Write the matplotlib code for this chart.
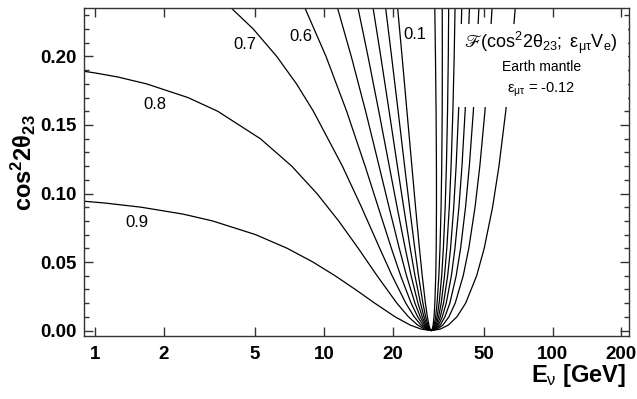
import matplotlib
matplotlib.use('Agg')
import matplotlib.pyplot as plt
from matplotlib.ticker import FixedLocator, NullLocator, MultipleLocator, FixedFormatter
from matplotlib.patches import Rectangle

plt.rcParams['font.family'] = ['Liberation Sans', 'DejaVu Sans']
plt.rcParams['mathtext.fontset'] = 'custom'
plt.rcParams['mathtext.rm'] = 'Liberation Sans'
plt.rcParams['mathtext.it'] = 'Liberation Sans:italic'
plt.rcParams['mathtext.bf'] = 'Liberation Sans:bold'
plt.rcParams['mathtext.fallback'] = 'stix'

# ---------------- data ----------------
levels = ['0.9', '0.8', '0.7', '0.6', '0.5', '0.4', '0.3', '0.2', '0.1']

# common cos^2(2 theta23) grid for right branches and narrow left branches
y_grid = [0.0, 0.001, 0.004, 0.01, 0.02, 0.04, 0.06, 0.09, 0.12, 0.16, 0.20, 0.235]

right_E_09 = [29.5, 32.28, 35.04, 38.20, 41.72, 46.60, 50.28, 54.69, 58.33, 62.44, 65.96, 68.70]
right_E_08 = [29.5, 31.35, 33.17, 35.25, 37.55, 40.70, 43.05, 45.84, 48.11, 50.64, 52.77, 54.40]
right_E_07 = [29.5, 30.91, 32.29, 33.86, 35.58, 37.92, 39.64, 41.66, 43.28, 45.06, 46.54, 47.65]
right_E_06 = [29.5, 30.63, 31.73, 32.97, 34.31, 36.13, 37.45, 38.98, 40.19, 41.49, 42.54, 43.32]
right_E_05 = [29.5, 30.42, 31.31, 32.30, 33.38, 34.80, 35.83, 36.99, 37.89, 38.84, 39.58, 40.10]
right_E_04 = [29.5, 30.25, 30.96, 31.76, 32.61, 33.72, 34.50, 35.37, 36.02, 36.67, 37.16, 37.48]
right_E_03 = [29.5, 30.10, 30.66, 31.28, 31.94, 32.77, 33.33, 33.94, 34.36, 34.76, 35.02, 35.16]
right_E_02 = [29.5, 29.95, 30.37, 30.83, 31.29, 31.85, 32.21, 32.57, 32.78, 32.94, 32.98, 32.95]
right_E_01 = [29.5, 29.80, 30.06, 30.34, 30.59, 30.87, 31.01, 31.09, 31.08, 30.97, 30.78, 30.57]

left_E_06 = [29.5, 28.34, 27.16, 25.74, 24.09, 21.68, 19.75, 17.30, 15.16, 12.59, 10.23, 8.29]
left_E_05 = [29.5, 28.55, 27.58, 26.40, 25.03, 23.00, 21.38, 19.29, 17.45, 15.24, 13.19, 11.50]
left_E_04 = [29.5, 28.72, 27.92, 26.94, 25.80, 24.09, 22.70, 20.92, 19.33, 17.40, 15.61, 14.13]
left_E_03 = [29.5, 28.88, 28.22, 27.42, 26.47, 25.04, 23.87, 22.35, 20.98, 19.31, 17.75, 16.44]
left_E_02 = [29.5, 29.02, 28.51, 27.88, 27.12, 25.95, 24.99, 23.72, 22.56, 21.14, 19.79, 18.65]
left_E_01 = [29.5, 29.17, 28.82, 28.37, 27.81, 26.94, 26.19, 25.19, 24.27, 23.10, 21.99, 21.04]

left_y_07 = [0.0, 0.001, 0.004, 0.01, 0.02, 0.04, 0.06, 0.09, 0.12, 0.16, 0.18, 0.20, 0.22, 0.235]
left_E_07 = [29.5, 28.06, 26.59, 24.85, 22.83, 19.89, 17.56, 14.62, 12.06, 9.01, 7.60, 6.23, 4.92, 3.96]

left_y_08 = [0.0, 0.001, 0.004, 0.01, 0.02, 0.04, 0.06, 0.08, 0.10, 0.12, 0.14, 0.16,
             0.17, 0.18, 0.185, 0.188, 0.19]
left_E_08 = [29.5, 27.62, 25.71, 23.45, 20.86, 17.10, 14.15, 11.61, 9.33, 7.24, 5.28, 3.44,
             2.55, 1.68, 1.26, 1.00, 0.83]

left_y_09 = [0.0, 0.001, 0.004, 0.01, 0.02, 0.03, 0.04, 0.05, 0.06, 0.07, 0.08, 0.085,
             0.09, 0.093, 0.094, 0.0945]
left_E_09 = [29.5, 26.69, 23.84, 20.50, 16.69, 13.73, 11.20, 8.96, 6.92, 5.03, 3.26, 2.42,
             1.59, 1.11, 0.95, 0.87]

label_text = ['0.9', '0.8', '0.7', '0.6', '0.1']
label_E = [1.52, 1.83, 4.52, 7.93, 25.1]
label_y = [0.079, 0.1646, 0.2084, 0.2146, 0.2164]

x_ticks = [1, 2, 5, 10, 20, 50, 100, 200]
x_ticklabels = ['1', '2', '5', '10', '20', '50', '100', '200']
y_ticks = [0.00, 0.05, 0.10, 0.15, 0.20]
y_ticklabels = ['0.00', '0.05', '0.10', '0.15', '0.20']

# ---------------- figure ----------------
fig = plt.figure(figsize=(6.37, 3.99), dpi=100)
ax = fig.add_axes([0.1319, 0.1579, 0.8563, 0.8221])

left_branches = [
    (left_E_09, left_y_09), (left_E_08, left_y_08), (left_E_07, left_y_07),
    (left_E_06, y_grid), (left_E_05, y_grid), (left_E_04, y_grid),
    (left_E_03, y_grid), (left_E_02, y_grid), (left_E_01, y_grid),
]
right_branches = [right_E_09, right_E_08, right_E_07, right_E_06, right_E_05,
                  right_E_04, right_E_03, right_E_02, right_E_01]

for (lE, ly), rE in zip(left_branches, right_branches):
    E = list(reversed(lE)) + rE[1:]
    y = list(reversed(ly)) + y_grid[1:]
    ax.plot(E, y, color='black', lw=0.9, zorder=2)

for t, e, yy in zip(label_text, label_E, label_y):
    ax.text(e, yy, t, fontsize=12, ha='center', va='center', zorder=5)

ax.set_xscale('log')
ax.set_xlim(0.895, 217)
ax.set_ylim(-0.004, 0.2354)

ax.xaxis.set_major_locator(FixedLocator(x_ticks))
ax.xaxis.set_major_formatter(FixedFormatter(x_ticklabels))
ax.xaxis.set_minor_locator(NullLocator())
ax.yaxis.set_major_locator(FixedLocator(y_ticks))
ax.yaxis.set_major_formatter(FixedFormatter(y_ticklabels))
ax.yaxis.set_minor_locator(MultipleLocator(0.01))

ax.tick_params(which='both', direction='in', top=True, right=True, colors='#333333',
               labelcolor='black', width=1.0)
ax.tick_params(which='major', length=6.5, labelsize=13.5)
ax.tick_params(axis='x', which='major', pad=7)
ax.tick_params(axis='y', which='major', pad=5)
ax.tick_params(which='minor', length=3.5)
for lab in ax.get_xticklabels() + ax.get_yticklabels():
    lab.set_fontweight('bold')
for sp in ax.spines.values():
    sp.set_color('#333333')
    sp.set_linewidth(1.0)

ax.set_xlabel(r'E$_{\mathrm{\nu}}$ [GeV]', fontsize=17, fontweight='bold')
ax.xaxis.set_label_coords(0.907, -0.080)
ax.set_ylabel(r'$\mathbf{cos^2 2\theta_{23}}$', fontsize=17)
ax.yaxis.set_label_coords(-0.084, 0.53)

# white box behind the annotation
ax.add_patch(Rectangle((0.6856, 0.698), 0.3124, 0.253, transform=ax.transAxes,
                       facecolor='white', edgecolor='none', zorder=3))
ax.text(0.838, 0.893, r'$ℱ(\mathrm{cos^2 2\theta_{23};\ \varepsilon_{\mu\tau} V_e})$',
        transform=ax.transAxes, fontsize=13, ha='center', va='center', zorder=4)
ax.text(0.838, 0.820, 'Earth mantle', transform=ax.transAxes, fontsize=10,
        ha='center', va='center', zorder=4)
ax.text(0.838, 0.7515, r'$\mathrm{\varepsilon_{\mu\tau}}$ = -0.12', transform=ax.transAxes,
        fontsize=10.5, ha='center', va='center', zorder=4)

fig.savefig('out.png', dpi=100)
